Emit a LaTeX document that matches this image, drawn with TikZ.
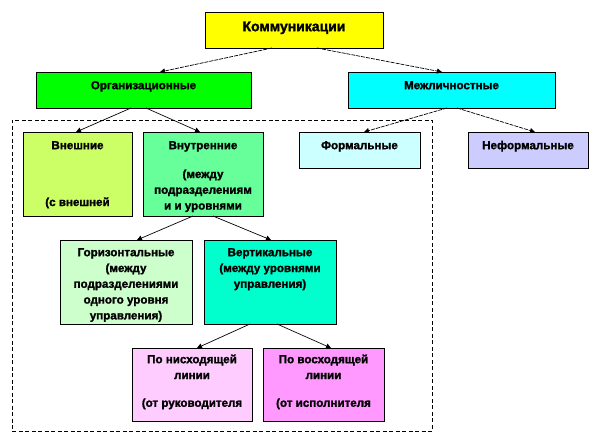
\documentclass[tikz,border=0pt]{standalone}
\usepackage{fontspec}
\setmainfont{Liberation Sans}
\newfontfamily\heavyfont{Liberation Sans Bold}[FakeBold=1.6]
\usetikzlibrary{arrows.meta,shadows}
\definecolor{cKomm}{HTML}{FFFF00}
\definecolor{cOrg}{HTML}{00FF00}
\definecolor{cMezh}{HTML}{00FFFF}
\definecolor{cVnesh}{HTML}{CCFF66}
\definecolor{cVnutr}{HTML}{66FF99}
\definecolor{cForm}{HTML}{CCFFFF}
\definecolor{cNeform}{HTML}{CCCCFF}
\definecolor{cGor}{HTML}{CCFFCC}
\definecolor{cVert}{HTML}{00FFCC}
\definecolor{cNish}{HTML}{FFCCFF}
\definecolor{cVosh}{HTML}{FF99FF}
\tikzset{
  box/.style={draw=black, line width=0.6pt, inner sep=0pt, outer sep=0pt,
    drop shadow={shadow xshift=1.2pt, shadow yshift=-1.2pt, fill=black!65, opacity=1}},
  txt/.style={inner sep=0pt, anchor=north, align=center,
    font=\fontsize{11.6}{15.8}\selectfont\heavyfont},
  bigtxt/.style={txt, font=\fontsize{14}{16}\selectfont\heavyfont},
  grpframe/.style={draw=black, line width=0.7pt, dash pattern=on 4pt off 2.5pt, inner sep=0pt},
  conn/.style={draw=black, line width=0.7pt, -{Triangle[length=5pt,width=5pt]}},
  dconn/.style={conn, dash pattern=on 4pt off 1pt},
}
\begin{document}
\begin{tikzpicture}[x=1pt,y=-1pt]
\useasboundingbox (0,0) rectangle (600,444);
% group frame
\node[grpframe, minimum width=420pt, minimum height=311pt] (grp) at (222,275.5) {};
% boxes
\node[box, fill=cKomm,   minimum width=178pt, minimum height=36pt] (komm)   at (294,30) {};
\node[box, fill=cOrg,    minimum width=215pt, minimum height=36pt] (org)    at (143.5,90) {};
\node[box, fill=cMezh,   minimum width=207pt, minimum height=36pt] (mezh)   at (451.5,90) {};
\node[box, fill=cVnesh,  minimum width=109pt, minimum height=84pt] (vnesh)  at (77.5,174) {};
\node[box, fill=cVnutr,  minimum width=120pt, minimum height=84pt] (vnutr)  at (203,174) {};
\node[box, fill=cForm,   minimum width=121pt, minimum height=36pt] (form)   at (359.5,150) {};
\node[box, fill=cNeform, minimum width=120pt, minimum height=36pt] (neform) at (528,150) {};
\node[box, fill=cGor,    minimum width=132pt, minimum height=84pt] (gor)    at (126,282) {};
\node[box, fill=cVert,   minimum width=132pt, minimum height=84pt] (vert)   at (270,282) {};
\node[box, fill=cNish,   minimum width=120pt, minimum height=73pt] (nish)   at (192,384.5) {};
\node[box, fill=cVosh,   minimum width=121pt, minimum height=73pt] (vosh)   at (323.5,384.5) {};
% texts
\node[bigtxt] (komm-t) at ([yshift=-8.5pt]komm.north) {\rule{0pt}{10.5pt}Коммуникации};
\node[txt] (org-t) at ([yshift=-8pt]org.north) {\rule{0pt}{9pt}Организационные};
\node[txt] (mezh-t) at ([yshift=-8pt]mezh.north) {\rule{0pt}{9pt}Межличностные};
\node[txt] (vnesh-t) at ([yshift=-8pt]vnesh.north) {\rule{0pt}{9pt}Внешние\\[41pt](с внешней};
\node[txt] (vnutr-t) at ([yshift=-8pt]vnutr.north) {\rule{0pt}{9pt}Внутренние\\[13pt](между\\подразделениям\\и и уровнями};
\node[txt] (form-t) at ([yshift=-8pt]form.north) {\rule{0pt}{9pt}Формальные};
\node[txt] (neform-t) at ([yshift=-8pt]neform.north) {\rule{0pt}{9pt}Неформальные};
\node[txt] (gor-t) at ([yshift=-7pt]gor.north) {\rule{0pt}{9pt}Горизонтальные\\(между\\подразделениями\\одного уровня\\управления)};
\node[txt] (vert-t) at ([yshift=-7pt]vert.north) {\rule{0pt}{9pt}Вертикальные\\(между уровнями\\управления)};
\node[txt] (nish-t) at ([yshift=-6pt]nish.north) {\rule{0pt}{9pt}По нисходящей\\линии\\[12pt](от руководителя};
\node[txt] (vosh-t) at ([yshift=-6pt]vosh.north) {\rule{0pt}{9pt}По восходящей\\линии\\[12pt](от исполнителя};
% connectors
\draw[dconn] ([xshift=-22pt]komm.south) -- ([xshift=16.5pt]org.north);
\draw[dconn] ([xshift=23pt]komm.south) -- ([xshift=-9.5pt]mezh.north);
\draw[conn] ([xshift=-12.5pt]org.south) -- ([xshift=-1.5pt]vnesh.north);
\draw[conn] ([xshift=2.5pt]org.south) -- ([xshift=-3pt]vnutr.north);
\draw[dconn] ([xshift=-4.5pt]mezh.south) -- ([xshift=4.5pt]form.north);
\draw[dconn] ([xshift=5.5pt]mezh.south) -- ([xshift=7pt]neform.north);
\draw[conn] ([xshift=-10pt]vnutr.south) -- ([xshift=11pt]gor.north);
\draw[conn] ([xshift=10pt]vnutr.south) -- ([xshift=1pt]vert.north);
\draw[conn] ([xshift=-20pt]vert.south) -- ([xshift=5pt]nish.north);
\draw[conn] ([xshift=7pt]vert.south) -- ([xshift=7.5pt]vosh.north);
\end{tikzpicture}
\end{document}
